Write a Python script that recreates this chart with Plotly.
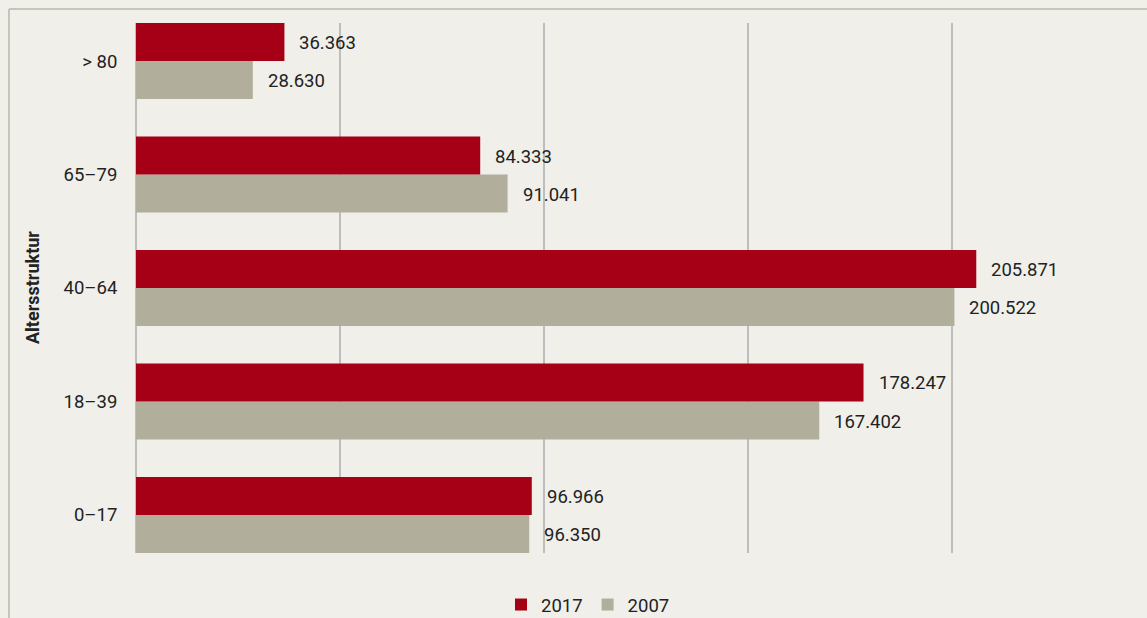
import plotly.graph_objects as go

categories = ["0–17", "18–39", "40–64", "65–79", "> 80"]
values_2017 = [96966, 178247, 205871, 84333, 36363]
values_2007 = [96350, 167402, 200522, 91041, 28630]
series_names = ["2017", "2007"]
colors = {"2017": "#a50016", "2007": "#b1af9c"}

FONT = "Roboto"
TEXTC = "#222222"
FS = 18.5

fig = go.Figure()
fig.add_trace(go.Bar(y=categories, x=values_2007, orientation="h", name="2007",
                     marker=dict(color=colors["2007"], line=dict(width=0))))
fig.add_trace(go.Bar(y=categories, x=values_2017, orientation="h", name="2017",
                     marker=dict(color=colors["2017"], line=dict(width=0))))

def fmt(v):
    return f"{v:,}".replace(",", ".")

for vals, off in ((values_2017, 0.1675), (values_2007, -0.1675)):
    for c, v in zip(categories, vals):
        i = categories.index(c)
        fig.add_annotation(x=v, y=i + off, xref="x", yref="y", text=fmt(v),
                           showarrow=False, xanchor="left", yanchor="middle",
                           xshift=13, yshift=-1, font=dict(family=FONT, size=FS, color=TEXTC))

L, T, B = 136, 23, 553
W, H = 1147, 618
pw = W - L
ph = B - T

def px_x(x):
    return (x - L) / pw

def px_y(y):
    return (B - y) / ph

# frame lines (left and top)
fig.add_shape(type="line", xref="paper", yref="paper", x0=px_x(9), x1=px_x(1160),
              y0=px_y(9), y1=px_y(9), line=dict(color="#c6c5b7", width=2))
fig.add_shape(type="line", xref="paper", yref="paper", x0=px_x(9), x1=px_x(9),
              y0=px_y(9), y1=px_y(630), line=dict(color="#c6c5b7", width=2))

fig.add_annotation(x=px_x(32), y=0.5, xref="paper", yref="paper", text="<b>Altersstruktur</b>",
                   textangle=-90, showarrow=False, xanchor="center", yanchor="middle",
                   font=dict(family=FONT, size=18, color=TEXTC))

fig.update_layout(
    width=W, height=H,
    margin=dict(l=L, r=0, t=T, b=H - B),
    paper_bgcolor="#f0efea", plot_bgcolor="#f0efea",
    barmode="group", bargap=0.33, bargroupgap=0,
    font=dict(family=FONT, size=FS, color=TEXTC),
    showlegend=True,
    legend=dict(orientation="h", traceorder="reversed", x=(588) / W, xanchor="center", xref="container",
                y=(H - 605) / H, yanchor="middle", yref="container",
                font=dict(family=FONT, size=FS, color=TEXTC),
                bgcolor="rgba(0,0,0,0)"),
    xaxis=dict(range=[0, 247700], dtick=50000, tick0=0, showgrid=True, gridcolor="#bdbdbd",
               gridwidth=2, zeroline=True, zerolinecolor="#bdbdbd", zerolinewidth=2,
               showticklabels=False, showline=False, ticks=""),
    yaxis=dict(categoryorder="array", categoryarray=categories, range=[-0.335, 4.335],
               showgrid=False, zeroline=False, showline=False, ticks="outside", ticklen=14,
               tickcolor="rgba(0,0,0,0)", tickfont=dict(family=FONT, size=FS, color=TEXTC)),
)

fig.write_html("out.html")
